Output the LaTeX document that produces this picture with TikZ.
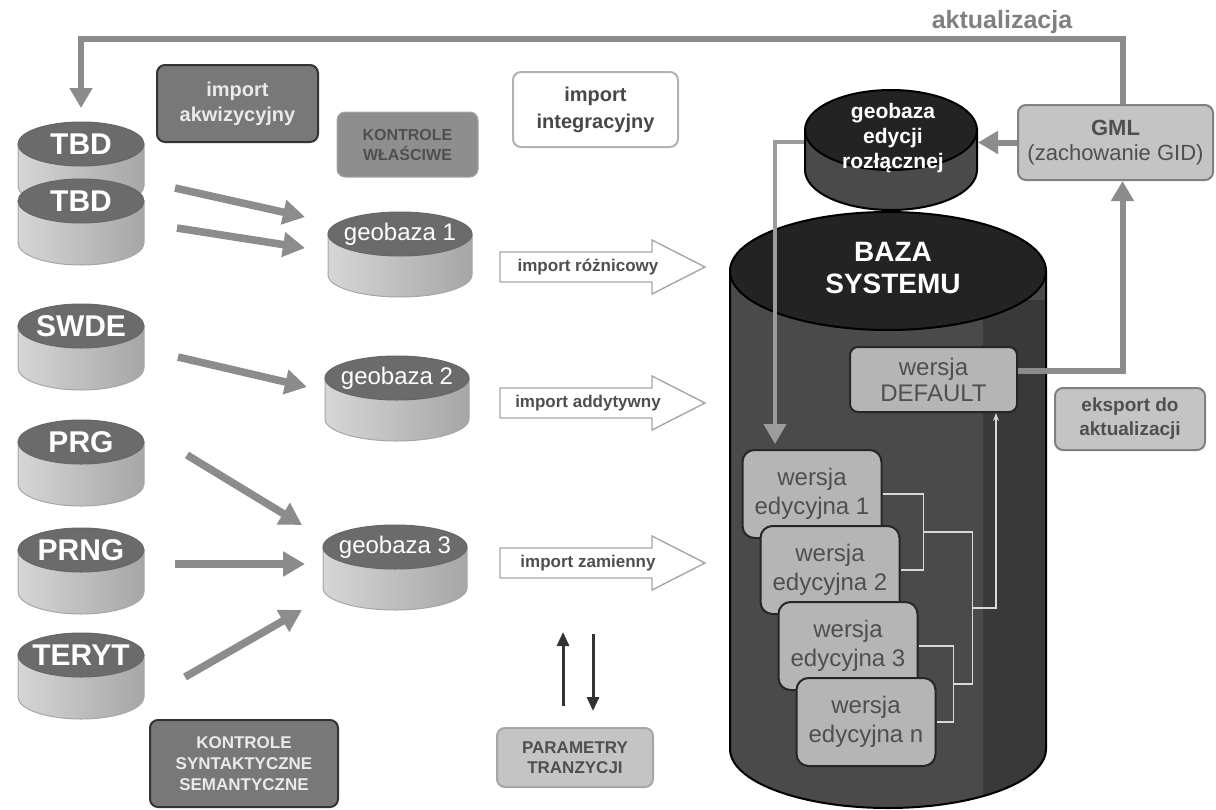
\documentclass[tikz,border=0pt]{standalone}
\usepackage{fontspec}
\setmainfont{Liberation Sans}
\usetikzlibrary{arrows.meta, calc, shapes.geometric}
\definecolor{arrowgray}{HTML}{8C8C8C}
\definecolor{feedgray}{HTML}{9C9C9C}
\definecolor{srctop}{HTML}{6B6B6B}
\definecolor{srcleft}{HTML}{D6D6D6}
\definecolor{srcright}{HTML}{A6A6A6}
\definecolor{coretop}{HTML}{232323}
\definecolor{coreside}{HTML}{4A4A4A}
\definecolor{coreshade}{HTML}{393939}
\definecolor{boxdark}{HTML}{787878}
\definecolor{boxmid}{HTML}{8E8E8E}
\definecolor{boxlight}{HTML}{C4C4C4}
\definecolor{verfill}{HTML}{B5B5B5}
\definecolor{txtdark}{HTML}{4F4F4F}
\definecolor{txtlight}{HTML}{EAEAEA}
\tikzset{
  every node/.append style={inner sep=0pt},
  fat/.style={-{Triangle[length=11pt,width=12pt]}, line width=3.8pt, color=arrowgray},
  upd/.style={-{Triangle[length=10pt,width=11pt]}, line width=3pt, color=arrowgray},
  feed/.style={-{Triangle[length=10pt,width=11pt]}, line width=2pt, color=feedgray},
  link/.style={line width=0.8pt, color=white!85!black},
  par/.style={-{Triangle[length=7pt,width=6pt]}, line width=1.5pt, color=black!80},
  hollow/.style={fill=white, draw=gray!70, line width=0.7pt},
  srcside/.style={left color=srcleft, right color=srcright, draw=gray!70, line width=0.5pt},
  srctop/.style={ellipse, fill=srctop, draw=gray!80!black, line width=0.5pt, minimum width=63pt, minimum height=22pt},
  geotop/.style={srctop, minimum width=72pt},
  srctxt/.style={text=white, font=\fontsize{15}{18}\selectfont\bfseries},
  geotxt/.style={text=white, font=\fontsize{12}{14}\selectfont},
  imptxt/.style={text=txtdark, font=\fontsize{8.5}{10}\selectfont\bfseries},
  box/.style={rounded corners=4pt, align=center, line width=1pt},
  akwbox/.style={box, fill=boxdark, draw=black!80, text=txtlight, minimum width=80.5pt, minimum height=38.5pt, font=\fontsize{10}{12.5}\selectfont\bfseries},
  wlbox/.style={box, fill=boxmid, draw=gray!70, line width=0.5pt, text=txtdark, minimum width=70.5pt, minimum height=32.5pt, font=\fontsize{8}{10}\selectfont\bfseries},
  intbox/.style={box, fill=white, draw=gray!60, text=txtdark!90!black, minimum width=82.5pt, minimum height=37.5pt, font=\fontsize{10}{13.5}\selectfont\bfseries},
  synbox/.style={box, fill=boxdark, draw=black!80, text=txtlight, minimum width=94pt, minimum height=43.5pt, font=\fontsize{8.5}{10.5}\selectfont\bfseries},
  parbox/.style={box, fill=boxlight, draw=gray!70, text=txtdark, minimum width=78pt, minimum height=29.5pt, font=\fontsize{8.5}{10}\selectfont\bfseries},
  gmlbox/.style={box, fill=boxlight, draw=gray, text=txtdark, minimum width=97.5pt, minimum height=37.5pt, font=\fontsize{11}{12.5}\selectfont},
  ekbox/.style={box, fill=boxlight, draw=gray, text=txtdark, minimum width=75pt, minimum height=31pt, font=\fontsize{9.5}{12}\selectfont\bfseries},
  verbox/.style={box, fill=verfill, draw=black!85, text=txtdark, minimum width=83.5pt, minimum height=32.5pt, font=\fontsize{12}{13}\selectfont},
  edbox/.style={verbox, rounded corners=6pt, minimum width=69.5pt, minimum height=44pt, font=\fontsize{12}{14.5}\selectfont},
  coretop/.style={ellipse, fill=coretop, draw=black, line width=1pt},
  coretxt/.style={text=white, align=center, font=\fontsize{14}{16.5}\selectfont\bfseries},
  edtxt/.style={text=white, align=center, font=\fontsize{10.5}{12.5}\selectfont\bfseries},
  updtxt/.style={text=gray, font=\fontsize{12.5}{14}\selectfont\bfseries}
}
\begin{document}
\begin{tikzpicture}[x=0.5pt, y=-0.5pt]
\useasboundingbox (0,0) rectangle (1216,809);

% source databases
\foreach \nm/\lbl/\y in {tbdA/TBD/144, tbdB/TBD/201, swde/SWDE/326, prg/PRG/442, prng/PRNG/550, teryt/TERYT/655} {
  \shadedraw[srcside] (18,\y) -- (18,\y+42) arc[start angle=180, end angle=0, x radius=63, y radius=22] -- (144,\y) -- cycle;
  \node[srctop] (\nm) at (81,\y) {};
  \node[srctxt] at (\nm) {\lbl};
}

% geobazy
\foreach \nm/\lbl/\x/\y in {geoA/1/400/234, geoB/2/397/378, geoC/3/395/547} {
  \shadedraw[srcside] (\x-72,\y) -- (\x-72,\y+41) arc[start angle=180, end angle=0, x radius=72, y radius=22] -- (\x+72,\y) -- cycle;
  \node[geotop] (\nm) at (\x,\y) {};
  \node[geotxt] at (\nm) {geobaza \lbl};
}

\node[akwbox] (akw) at (237.5,103.5) {import\\akwizycyjny};
\node[wlbox] (wlasc) at (407.5,144.5) {KONTROLE\\WŁAŚCIWE};
\node[intbox] (integr) at (595.5,109.5) {import\\integracyjny};
\node[synbox] (syntakt) at (244,763.5) {KONTROLE\\SYNTAKTYCZNE\\SEMANTYCZNE};
\node[parbox] (param) at (575,757.5) {PARAMETRY\\TRANZYCJI};

\draw[fat] ($(tbdA)+(94,44)$) -- ($(geoA)+(-95,-17)$);
\draw[fat] ($(tbdB)+(96,27)$) -- ($(geoA)+(-95,14)$);
\draw[fat] ($(swde)+(97,31)$) -- ($(geoB)+(-90,9)$);
\draw[fat] ($(prg)+(106,13)$) -- ($(geoC)+(-93,-22)$);
\draw[fat] ($(prng)+(94,14)$) -- ($(geoC)+(-90,17)$);
\draw[fat] ($(teryt)+(104,22)$) -- ($(geoC)+(-93,63)$);

% import arrows
\foreach \nm/\lbl/\y in {impA/import różnicowy/267, impB/import addytywny/403, impC/import zamienny/563} {
  \draw[hollow] (500,\y-15) -- (652,\y-15) -- (652,\y-27) -- (705,\y) -- (652,\y+27) -- (652,\y+15) -- (500,\y+15) -- cycle;
  \node[imptxt] (\nm) at (588,\y) {\lbl};
}

\draw[par] ($(param.north)+(-12,-21)$) -- ($(param.north)+(-12,-95)$);
\draw[par] ($(param.north)+(18,-93)$) -- ($(param.north)+(18,-16)$);

% baza systemu
\path[fill=coreside, draw=black, line width=1pt, path picture={\fill[coreshade] (983,300) rectangle (1060,820);}]
  (730,271) -- (730,749) arc[start angle=180, end angle=0, x radius=158, y radius=59] -- (1046,271) -- cycle;
\node[coretop, minimum width=158pt, minimum height=59pt] (baza) at (888,271) {};
\node[coretxt] at (893,268) {BAZA\\SYSTEMU};

\path[fill=coreside, draw=black, line width=1pt]
  (805,130) -- (805,170) arc[start angle=180, end angle=0, x radius=86, y radius=40] -- (977,130) -- cycle;
\node[coretop, minimum width=86pt, minimum height=40pt] (geoed) at (891,130) {};
\node[edtxt] at (893,138) {geobaza\\edycji\\rozłącznej};

\node[verbox] (default) at (933.5,379.5) {wersja\\DEFAULT};
\foreach \i/\nm/\lbl in {0/ed1/1, 1/ed2/2, 2/ed3/3, 3/edn/n}
  \node[edbox] (\nm) at (812+18*\i,494+76*\i) {wersja\\edycyjna \lbl};

\draw[feed] ($(geoed.west)+(0,12)$) -| ($(ed1.north)+(-37,-5)$);

\draw[link] (ed1.east) -- ++(41,0) coordinate (b1) |- (ed2.east);
\draw[link] (ed3.east) -- ++(35,0) coordinate (b2) |- (edn.east);
\coordinate (b1mid) at ($(b1)!0.5!(b1 |- ed2.east)$);
\coordinate (b2mid) at ($(b2)!0.5!(b2 |- edn.east)$);
\draw[link] (b1mid) -- ++(49,0) coordinate (j1) |- (b2mid);
\draw[link, -{Stealth[length=4pt,width=3pt]}] ($(j1)!0.5!(j1 |- b2mid)$) -| ($(default.south east)+(-22,0)$);

% GML i aktualizacja
\node[gmlbox] (gml) at (1115.5,142.5) {\textbf{GML}\\(zachowanie GID)};
\node[ekbox] (eksport) at (1130,419) {eksport do\\aktualizacji};
\draw[upd] (gml.west) -- (gml.west -| geoed.east);
\draw[upd] ($(default.east)+(0,-9)$) -| ($(gml.south)+(7,0)$);
\draw[upd] ($(gml.north)+(7,0)$) -- ++(0,-65) -| ($(tbdA)+(0,-36)$);
\node[updtxt] (aktlbl) at (1002,22) {aktualizacja};
\end{tikzpicture}
\end{document}
